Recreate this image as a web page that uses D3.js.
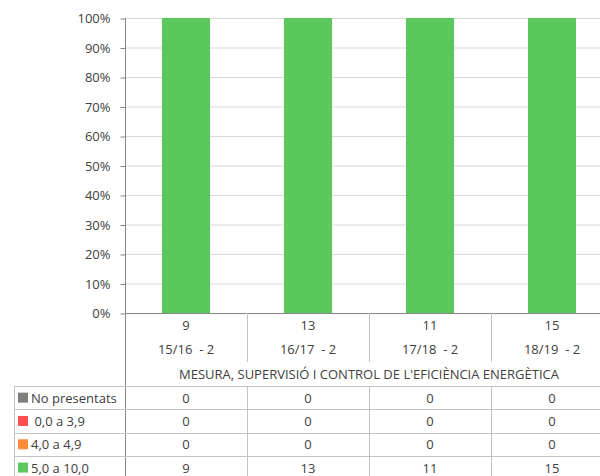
<!DOCTYPE html>
<html>
  <head>
    <meta charset="utf-8">
    <title>Eficiència energètica</title>
    <script src="https://cdn.jsdelivr.net/npm/d3@7"></script>
    <style>
      body { margin: 0; background: #fff; }
      text { font-family: "Open Sans", sans-serif; font-size: 13px; fill: #404040; }
    </style>
  </head>
  <body>
    <svg></svg>
    <script>
      'use strict';

      // data
      let categories = ["15/16  - 2", "16/17  - 2", "17/18  - 2", "18/19  - 2"];
      let totals = [9, 13, 11, 15];
      let seriesNames = ["No presentats", " 0,0 a 3,9", "4,0 a 4,9", "5,0 a 10,0"];
      let seriesColors = ["#7f7f7f", "#ff4f4f", "#ff8c3a", "#5bc85b"];
      let noPresentats = [0, 0, 0, 0];
      let suspes = [0, 0, 0, 0];
      let aprovatBaix = [0, 0, 0, 0];
      let aprovat = [9, 13, 11, 15];
      let groupTitle = "MESURA, SUPERVISIÓ I CONTROL DE L'EFICIÈNCIA ENERGÈTICA";
      let yTicks = [0, 0.1, 0.2, 0.3, 0.4, 0.5, 0.6, 0.7, 0.8, 0.9, 1];

      let w = 600, h = 476;
      let plotL = 125, plotR = 613, plotT = 18, plotB = 313;
      let tableLeft = 14;
      let rowH = 23.3;
      let tableTop = 386;

      let svg = d3.select("svg").attr("width", w).attr("height", h);

      let rows = [noPresentats, suspes, aprovatBaix, aprovat];
      let table = categories.map(function (c, i) {
        let o = { cat: c };
        seriesNames.forEach(function (s, j) { o[s] = rows[j][i]; });
        return o;
      });
      let stacked = d3.stack().keys(seriesNames)
        .offset(d3.stackOffsetExpand)(table);

      let x = d3.scaleBand().domain(categories).range([plotL, plotR])
        .paddingInner(0).paddingOuter(0);
      let y = d3.scaleLinear().domain([0, 1]).range([plotB, plotT]);

      // gridlines
      svg.append("g").selectAll("line").data(yTicks.slice(1)).enter()
        .append("line")
        .attr("x1", plotL).attr("x2", w)
        .attr("y1", function (d) { return y(d) + 0.5; })
        .attr("y2", function (d) { return y(d) + 0.5; })
        .attr("stroke", "#d9d9d9");

      // y axis
      let yAxis = svg.append("g")
        .attr("transform", "translate(" + (plotL + 0.5) + ",0.5)")
        .call(d3.axisLeft(y).tickValues(yTicks).tickFormat(d3.format(".0%"))
          .tickSize(5).tickPadding(10));
      yAxis.select(".domain").remove();
      yAxis.selectAll("line").attr("stroke", "#868686");
      yAxis.selectAll("text").style("fill", "#404040")
        .style("font-family", "'Open Sans', sans-serif").style("font-size", "13px");

      // bars
      let barW = 48;
      svg.append("g").selectAll("g").data(stacked).enter()
        .append("g")
        .attr("fill", function (d, i) { return seriesColors[i]; })
        .selectAll("rect").data(function (d) { return d; }).enter()
        .append("rect")
        .attr("x", function (d) { return x(d.data.cat) + (x.bandwidth() - barW) / 2; })
        .attr("width", barW)
        .attr("y", function (d) { return y(isNaN(d[1]) ? 0 : d[1]); })
        .attr("height", function (d) {
          return isNaN(d[1]) ? 0 : y(d[0]) - y(d[1]);
        });

      // x axis line and vertical axis line running through the table
      svg.append("line").attr("x1", plotL).attr("x2", w)
        .attr("y1", plotB + 0.5).attr("y2", plotB + 0.5).attr("stroke", "#868686");
      svg.append("line").attr("x1", plotL + 0.5).attr("x2", plotL + 0.5)
        .attr("y1", plotT).attr("y2", h).attr("stroke", "#868686");

      // category header: totals and labels
      let grid = "#c3c3c3";
      categories.forEach(function (c, i) {
        let cx = x(c) + x.bandwidth() / 2;
        svg.append("text").attr("x", cx).attr("y", 330)
          .attr("text-anchor", "middle").text(totals[i]);
        svg.append("text").attr("x", cx).attr("y", 354)
          .attr("text-anchor", "middle").attr("xml:space", "preserve").text(c);
        if (i > 0) {
          svg.append("line").attr("x1", x(c) + 0.5).attr("x2", x(c) + 0.5)
            .attr("y1", plotB).attr("y2", 362).attr("stroke", grid);
        }
      });
      svg.append("text").attr("x", (plotL + plotR) / 2).attr("y", 379)
        .attr("text-anchor", "middle").text(groupTitle);

      // data table
      for (let r = 0; r <= 4; r++) {
        let yy = Math.round(tableTop + r * rowH) + 0.5;
        svg.append("line").attr("x1", tableLeft).attr("x2", w)
          .attr("y1", yy).attr("y2", yy).attr("stroke", grid);
      }
      svg.append("line").attr("x1", tableLeft + 0.5).attr("x2", tableLeft + 0.5)
        .attr("y1", tableTop).attr("y2", h).attr("stroke", grid);
      categories.forEach(function (c, i) {
        if (i > 0) {
          svg.append("line").attr("x1", x(c) + 0.5).attr("x2", x(c) + 0.5)
            .attr("y1", tableTop).attr("y2", h).attr("stroke", grid);
        }
      });

      seriesNames.forEach(function (s, j) {
        let cy = tableTop + j * rowH + rowH / 2;
        svg.append("rect").attr("x", 18).attr("y", cy - 5)
          .attr("width", 10).attr("height", 10).attr("fill", seriesColors[j]);
        svg.append("text").attr("x", 31).attr("y", cy + 5)
          .attr("xml:space", "preserve").text(s);
        categories.forEach(function (c, i) {
          svg.append("text").attr("x", x(c) + x.bandwidth() / 2).attr("y", cy + 5)
            .attr("text-anchor", "middle").text(rows[j][i]);
        });
      });
    </script>
  </body>
</html>
